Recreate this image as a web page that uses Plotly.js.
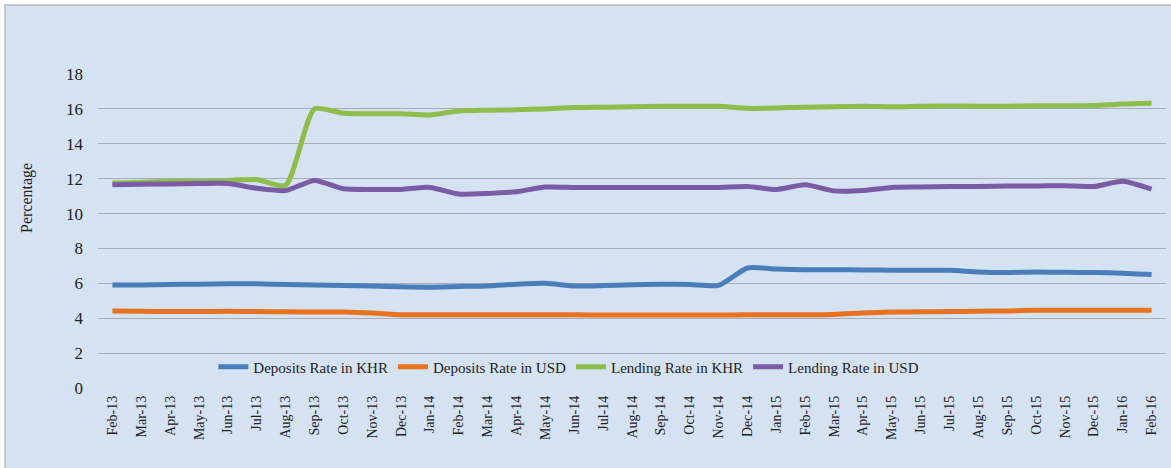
<!DOCTYPE html>
<html>
<head>
<meta charset="utf-8">
<script src="https://cdn.plot.ly/plotly-3.0.1.min.js"></script>
<style>html,body{margin:0;padding:0;background:#fff;}#chart{width:1171px;height:468px;}</style>
</head>
<body>
<div id="chart"></div>
<script>
var months = ["Feb-13","Mar-13","Apr-13","May-13","Jun-13","Jul-13","Aug-13","Sep-13","Oct-13","Nov-13","Dec-13",
  "Jan-14","Feb-14","Mar-14","Apr-14","May-14","Jun-14","Jul-14","Aug-14","Sep-14","Oct-14","Nov-14","Dec-14",
  "Jan-15","Feb-15","Mar-15","Apr-15","May-15","Jun-15","Jul-15","Aug-15","Sep-15","Oct-15","Nov-15","Dec-15",
  "Jan-16","Feb-16"];

var depositsKHR = [5.90,5.90,5.93,5.95,5.97,5.97,5.93,5.90,5.88,5.85,5.80,
  5.78,5.82,5.85,5.95,6.00,5.85,5.87,5.92,5.95,5.93,5.88,6.88,
  6.82,6.78,6.78,6.77,6.75,6.75,6.75,6.65,6.62,6.65,6.63,6.62,
  6.58,6.50];

var depositsUSD = [4.42,4.40,4.38,4.38,4.40,4.38,4.37,4.35,4.35,4.30,4.20,
  4.20,4.20,4.20,4.20,4.20,4.20,4.18,4.18,4.18,4.18,4.18,4.20,
  4.20,4.20,4.22,4.30,4.35,4.37,4.38,4.40,4.42,4.45,4.45,4.45,
  4.45,4.45];

var lendingKHR = [11.75,11.80,11.85,11.85,11.90,11.95,11.62,16.00,15.75,15.72,15.72,
  15.65,15.88,15.92,15.95,16.00,16.08,16.10,16.12,16.15,16.15,16.15,16.03,
  16.05,16.10,16.12,16.15,16.12,16.15,16.17,16.15,16.15,16.18,16.18,16.20,
  16.28,16.32];

var lendingUSD = [11.65,11.68,11.70,11.72,11.72,11.45,11.32,11.90,11.42,11.38,11.38,
  11.50,11.12,11.15,11.25,11.52,11.50,11.50,11.50,11.50,11.50,11.50,11.55,
  11.38,11.65,11.30,11.32,11.50,11.52,11.55,11.55,11.58,11.58,11.60,11.55,
  11.85,11.40];

var seriesNames = ["Deposits Rate in KHR","Deposits Rate in USD","Lending Rate in KHR","Lending Rate in USD"];
var seriesColors = ["#4a7ebb","#e8721e","#8dbd4a","#7b5ba6"];
var seriesData = [depositsKHR, depositsUSD, lendingKHR, lendingUSD];

var serif = "'Liberation Serif', 'Times New Roman', 'DejaVu Serif', serif";

var traces = seriesData.map(function(d, i){
  return {
    x: months, y: d, type: "scatter", mode: "lines",
    name: seriesNames[i],
    line: {color: seriesColors[i], width: 5, shape: "spline", smoothing: 0.6}
  };
});

var layout = {
  width: 1171, height: 468,
  margin: {l: 98, r: 5, t: 74, b: 80},
  paper_bgcolor: "#ffffff",
  plot_bgcolor: "rgba(0,0,0,0)",
  font: {family: serif, color: "#222", size: 15},
  showlegend: true,
  legend: {
    orientation: "h", x: 0.108, xanchor: "left", y: 0.067, yanchor: "middle",
    bgcolor: "rgba(0,0,0,0)", font: {family: serif, size: 15, color: "#222"},
    itemwidth: 30, tracegroupgap: 0
  },
  xaxis: {
    type: "category", range: [-0.5, 36.5],
    tickangle: -90, tickfont: {family: serif, size: 14, color: "#222"},
    showgrid: false, zeroline: false, showline: false, ticks: "",
    ticklabelstandoff: 4, fixedrange: true
  },
  yaxis: {
    range: [0, 18], dtick: 2, tick0: 0,
    tickfont: {family: serif, size: 17, color: "#222"},
    showgrid: true, gridcolor: "#a7adb8", gridwidth: 1,
    zeroline: false, showline: false, ticks: "",
    ticklabelstandoff: 14, fixedrange: true
  },
  shapes: [{
    type: "rect", xref: "paper", yref: "paper", layer: "below",
    x0: -0.0871, x1: 1.01, y0: -0.26, y1: 1.2197,
    fillcolor: "#d5e2f1", line: {color: "#b8bcc4", width: 1.5}
  }],
  annotations: [{
    text: "Percentage", textangle: -90, showarrow: false,
    xref: "paper", yref: "paper",
    x: (27 - 98) / 1068, y: (388 - 198) / 314,
    xanchor: "center", yanchor: "middle",
    font: {family: serif, size: 16, color: "#222"}
  }]
};

Plotly.newPlot("chart", traces, layout, {displayModeBar: false, staticPlot: true});
</script>
</body>
</html>
